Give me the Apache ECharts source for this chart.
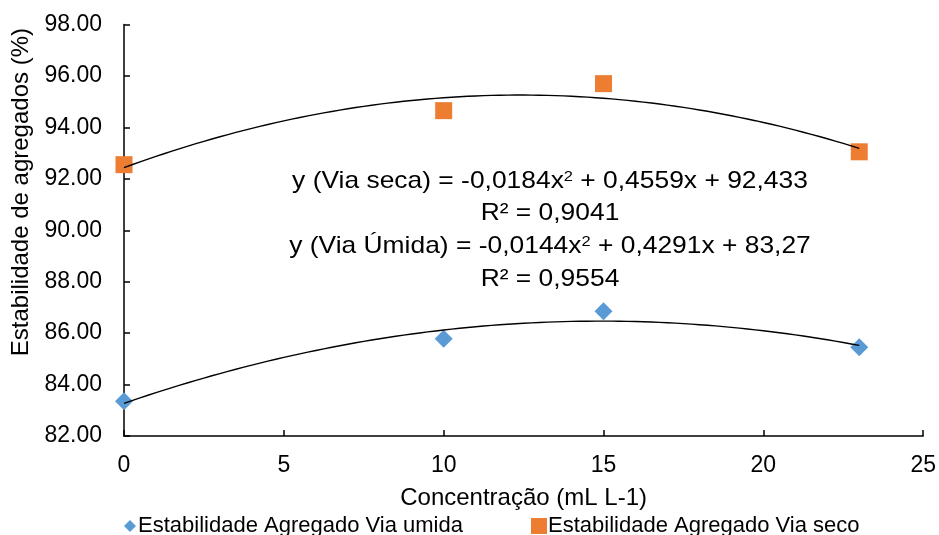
<!DOCTYPE html>
<html>
<head>
<meta charset="utf-8">
<script src="https://cdn.jsdelivr.net/npm/echarts@6/dist/echarts.min.js"></script>
<style>html,body{margin:0;padding:0;background:#fff}#c{width:939px;height:535px}</style>
</head>
<body>
<div id="c"></div>
<script>
const concentrations = [0, 10, 15, 23];
const viaUmida = [83.35, 85.78, 86.85, 85.45];
const viaSeco = [92.55, 94.65, 95.70, 93.05];
const coefSeca = [-0.0184, 0.4559, 92.433];
const coefUmida = [-0.0144, 0.4291, 83.27];
const nameUmida = 'Estabilidade Agregado Via umida';
const nameSeco = 'Estabilidade Agregado Via seco';
const xTitle = 'Concentração (mL L-1)';
const yTitle = 'Estabilidade de agregados (%)';
const eqLines = [
  ['y (Via seca) = -0,0184x', '2', ' + 0,4559x + 92,433'],
  ['R² = 0,9041'],
  ['y (Via Úmida) = -0,0144x', '2', ' + 0,4291x + 83,27'],
  ['R² = 0,9554']
];

function trend(c) {
  const pts = [];
  for (let x = 0; x <= 23.0001; x += 0.25) pts.push([x, c[0]*x*x + c[1]*x + c[2]]);
  return pts;
}
const font = 'Liberation Sans, Arial, sans-serif';
const chart = echarts.init(document.getElementById('c'), null, {renderer: 'canvas'});

const eqGraphics = eqLines.map((parts, i) => ({
  type: 'text', x: 550, y: [181, 213, 246, 279][i], scaleX: 1.1,
  style: {
    text: parts.map((p, j) => (j === 1 ? '{s|' : '{t|') + p + '}').join(''),
    rich: {
      t: {fontSize: 24, fontFamily: font, fill: '#000'},
      s: {fontSize: 15, fontFamily: font, fill: '#000', verticalAlign: 'top', padding: [0, 0, 9, 0]}
    },
    align: 'center', verticalAlign: 'middle'
  }
}));

chart.setOption({
  animation: false,
  textStyle: {fontFamily: font},
  grid: {left: 124, right: 15, top: 24.5, bottom: 99},
  xAxis: {
    type: 'value', min: 0, max: 25, interval: 5,
    name: xTitle, nameLocation: 'middle', nameGap: 50,
    nameTextStyle: {fontSize: 24, color: '#000', fontFamily: font},
    axisLine: {show: true, lineStyle: {color: '#000', width: 1.5}},
    axisTick: {show: true, inside: true, length: 6, lineStyle: {color: '#000', width: 1.5}},
    axisLabel: {fontSize: 23, color: '#000', margin: 18, fontFamily: font},
    splitLine: {show: false}
  },
  yAxis: {
    type: 'value', min: 82, max: 98, interval: 2,
    axisLine: {show: true, lineStyle: {color: '#000', width: 1.5}},
    axisTick: {show: true, inside: true, length: 6, lineStyle: {color: '#000', width: 1.5}},
    axisLabel: {fontSize: 23, color: '#000', margin: 22, fontFamily: font, formatter: v => v.toFixed(2)},
    splitLine: {show: false}
  },
  legend: [
    {top: 510, left: 119, itemWidth: 12, itemHeight: 12, itemGap: 0,
     textStyle: {fontSize: 22, color: '#000', fontFamily: font, padding: [0, 0, 0, -3]},
     data: [{name: nameUmida, icon: 'diamond'}]},
    {top: 510, left: 526, itemWidth: 16, itemHeight: 16, itemGap: 0,
     textStyle: {fontSize: 22, color: '#000', fontFamily: font, padding: [0, 0, 0, -4]},
     data: [{name: nameSeco, icon: 'rect'}]}
  ],
  graphic: [
    {type: 'text', left: 9, top: 28, rotation: Math.PI / 2,
     style: {text: yTitle, font: '24px ' + font, fill: '#000'}}
  ].concat(eqGraphics),
  series: [
    {name: nameUmida, type: 'scatter', symbol: 'diamond', symbolSize: 18,
     itemStyle: {color: '#5B9BD5', opacity: 1}, data: concentrations.map((x, i) => [x, viaUmida[i]]), z: 3},
    {name: nameSeco, type: 'scatter', symbol: 'rect', symbolSize: 17,
     itemStyle: {color: '#ED7D31', opacity: 1}, data: concentrations.map((x, i) => [x, viaSeco[i]]), z: 3},
    {name: 'trend seca', type: 'line', symbol: 'none', data: trend(coefSeca),
     lineStyle: {color: '#000', width: 1.4}, z: 4, silent: true},
    {name: 'trend umida', type: 'line', symbol: 'none', data: trend(coefUmida),
     lineStyle: {color: '#000', width: 1.4}, z: 4, silent: true}
  ]
});
</script>
</body>
</html>
